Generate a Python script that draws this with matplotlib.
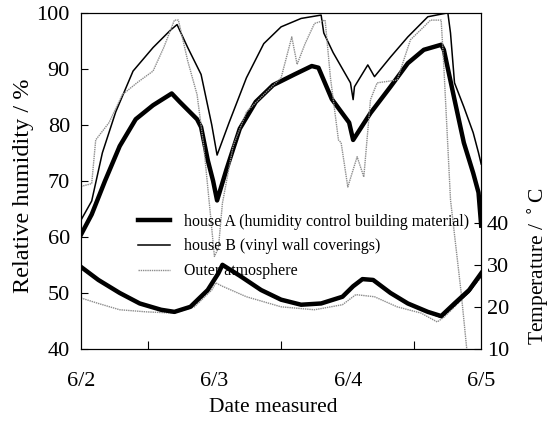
import matplotlib
matplotlib.use("Agg")
import matplotlib.pyplot as plt

plt.rcParams['font.family'] = ['Liberation Serif', 'DejaVu Serif']

# time in days from 6/2 00:00
house_a_rh_t = [0, 0.08, 0.18, 0.29, 0.41, 0.54, 0.68, 0.74, 0.87, 0.9, 0.95, 0.99,
                1.02, 1.09, 1.19, 1.31, 1.44, 1.6, 1.73, 1.78, 1.88, 2.01, 2.04,
                2.17, 2.32, 2.45, 2.57, 2.7, 2.72, 2.8, 2.87, 2.94, 2.98, 3.0]
house_a_rh = [60.4, 64, 70, 76.2, 81, 83.5, 85.6, 84.1, 81, 79.6, 73.7, 70,
              66.5, 72, 79.3, 84.1, 87.1, 89, 90.5, 90.2, 84.6, 80.4, 77.3,
              82.1, 86.8, 91, 93.4, 94.3, 93.4, 84.5, 76.8, 71.4, 67.9, 62]

house_b_rh_t = [0, 0.08, 0.16, 0.26, 0.39, 0.54, 0.67, 0.72, 0.8, 0.9, 0.98, 1.02,
                1.11, 1.24, 1.37, 1.5, 1.65, 1.8, 1.82, 1.89, 2.02, 2.04, 2.05,
                2.15, 2.2, 2.32, 2.45, 2.6, 2.75, 2.77, 2.8, 2.87, 2.94, 2.98, 3.0]
house_b_rh = [63, 66.4, 75, 82.3, 89.6, 93.8, 96.9, 97.9, 93.8, 89, 80, 74.6,
              80.4, 88.4, 94.5, 97.5, 99, 99.6, 96.4, 92.9, 87.5, 84.5, 86.8,
              90.7, 88.6, 92.1, 95.7, 99.3, 100, 96.4, 87.5, 83.2, 78.6, 75, 73]

outer_rh_t = [0, 0.08, 0.11, 0.21, 0.31, 0.43, 0.54, 0.62, 0.7, 0.73, 0.8, 0.87,
              0.92, 0.97, 1.0, 1.03, 1.06, 1.14, 1.24, 1.37, 1.5, 1.58, 1.62,
              1.68, 1.75, 1.83, 1.87, 1.93, 1.95, 2.0, 2.07, 2.12, 2.17, 2.22,
              2.37, 2.47, 2.57, 2.62, 2.7, 2.72, 2.77, 2.85, 2.9]
outer_rh = [69, 69.5, 77.3, 80.4, 85.4, 87.7, 89.6, 93.8, 98.7, 98.7, 91.4, 85.4,
            76.2, 64, 56.5, 58, 66, 76.2, 82.3, 85.4, 88.4, 95.7, 90.8,
            94.5, 98.1, 98.7, 88.4, 77.3, 76.8, 68.9, 74.3, 70.7, 84.5, 87.5,
            88, 95.2, 97.5, 98.7, 98.7, 90.4, 66.6, 50, 38]

temp_t = [0, 0.13, 0.29, 0.44, 0.6, 0.7, 0.82, 0.95, 1.03, 1.06, 1.19, 1.35,
          1.5, 1.65, 1.8, 1.96, 2.04, 2.11, 2.19, 2.32, 2.45, 2.6, 2.7,
          2.8, 2.91, 3.0]
house_a_temp = [29.5, 26.4, 23.3, 20.8, 19.3, 18.8, 20, 24, 28, 30, 27.4, 24,
                21.7, 20.5, 20.8, 22.4, 24.9, 26.6, 26.4, 23.3, 20.8, 18.8, 17.8,
                20.8, 24, 28]
house_b_temp = [29.3, 26.2, 23.1, 20.6, 19.1, 18.6, 19.8, 23.8, 27.8, 29.8, 27.2, 23.8,
                21.5, 20.3, 20.6, 22.2, 24.7, 26.4, 26.2, 23.1, 20.6, 18.6, 17.4,
                20.2, 23.4, 27.3]

outer_temp_t = [0, 0.13, 0.29, 0.49, 0.7, 0.85, 0.98, 1.01, 1.06, 1.24, 1.5, 1.75,
                1.96, 2.06, 2.2, 2.37, 2.55, 2.67, 2.72, 2.8, 2.9, 3.0]
outer_temp = [22.1, 20.8, 19.3, 18.8, 18.5, 20, 24, 25.7, 24.9, 22.4, 20, 19.3,
              20.5, 22.9, 22.4, 20, 18.5, 16.4, 17.5, 20, 23.3, 27]

date_labels = ['6/2', '6/3', '6/4', '6/5']

fig = plt.figure(figsize=(5.55, 4.28), dpi=100)
ax = fig.add_axes([0.146, 0.185, 0.721, 0.785])
ax2 = ax.twinx()

dot = (0, (1, 0.6))
la, = ax.plot(house_a_rh_t, house_a_rh, color='black', lw=3.2)
lb, = ax.plot(house_b_rh_t, house_b_rh, color='black', lw=1.1)
lo, = ax.plot(outer_rh_t, outer_rh, color='0.55', lw=1.0, ls=dot)

ax2.plot(outer_temp_t, outer_temp, color='0.55', lw=1.0, ls=dot)
ax2.plot(temp_t, house_b_temp, color='black', lw=0.8)
ax2.plot(temp_t, house_a_temp, color='black', lw=3.2)

ax.set_xlim(0, 3)
ax.set_ylim(40, 100)
ax2.set_ylim(10, 90)

ax.set_xticks([0.5, 1.5, 2.5])
ax.set_xticklabels([])
for i, lab in enumerate(date_labels):
    ax.text(i, 35.9, lab, ha='center', va='top', fontsize=16)
ax.set_yticks([40, 50, 60, 70, 80, 90, 100])
ax2.set_yticks([10, 20, 30, 40])

ax.tick_params(direction='in', length=5, labelsize=16, pad=8)
ax.tick_params(axis='x', length=6)
ax2.tick_params(direction='in', length=5, labelsize=16, pad=4)

fig.text(0.492, 0.047, 'Date measured', ha='center', va='center', fontsize=15.5)
fig.text(0.043, 0.565, 'Relative humidity / %', ha='center', va='center',
         rotation=90, fontsize=17.5)
fig.text(0.971, 0.379, 'Temperature / $^\\circ$C', ha='center', va='center',
         rotation=90, fontsize=15.5)

ax.legend([la, lb, lo],
          ['house A (humidity control building material)',
           'house B (vinyl wall coverings)',
           'Outer atmosphere'],
          loc='upper left', bbox_to_anchor=(0.142, 0.402), frameon=False,
          fontsize=11.4, handlelength=2.0, handletextpad=0.9, labelspacing=0.55,
          borderaxespad=0, borderpad=0)

fig.savefig('out.png', dpi=100)
